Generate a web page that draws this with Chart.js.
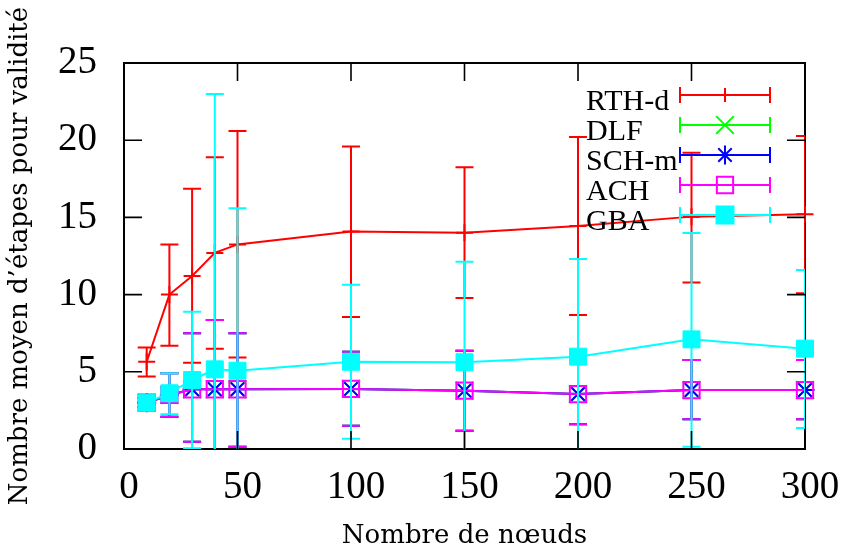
<!DOCTYPE html>
<html><head><meta charset="utf-8">
<script src="https://cdn.jsdelivr.net/npm/chart.js@4/dist/chart.umd.min.js"></script>
<style>html,body{margin:0;padding:0;background:#fff;}canvas{display:block;}</style>
</head><body>
<canvas id="c" width="842" height="555"></canvas>
<script>
// ---- data ----
const nodes = [10, 20, 30, 40, 50, 100, 150, 200, 250, 300];

const rthMean = [5.65, 10.0, 11.2, 12.7, 13.25, 14.09, 14.0, 14.44, 15.05, 15.2];
const rthLow  = [4.7, 6.69, 5.58, 6.5, 5.93, 8.55, 9.78, 8.68, 10.79, 10.08];
const rthHigh = [6.58, 13.25, 16.85, 18.9, 20.6, 19.6, 18.25, 20.2, 19.19, 20.27];

const dlfMean = [3.0, 3.5, 3.87, 3.87, 3.87, 3.89, 3.78, 3.56, 3.82, 3.82];
const dlfLow  = [2.7, 2.09, 0.47, -0.6, 0.15, 1.51, 1.19, 1.6, 1.92, 1.92];
const dlfHigh = [3.3, 4.9, 7.49, 8.35, 7.49, 6.3, 6.37, 5.52, 5.76, 5.76];

const schMean = [3.0, 3.5, 3.87, 3.87, 3.87, 3.89, 3.78, 3.56, 3.82, 3.82];
const schLow  = [2.7, 2.09, 0.47, -0.6, 0.15, 1.51, 1.19, 1.6, 1.92, 1.92];
const schHigh = [3.3, 4.9, 7.49, 8.35, 7.49, 6.3, 6.37, 5.52, 5.76, 5.76];

const achMean = [3.0, 3.5, 3.87, 3.87, 3.87, 3.89, 3.78, 3.56, 3.82, 3.82];
const achLow  = [2.7, 2.09, 0.47, -0.6, 0.15, 1.51, 1.19, 1.6, 1.92, 1.92];
const achHigh = [3.3, 4.9, 7.49, 8.35, 7.49, 6.3, 6.37, 5.52, 5.76, 5.76];

const gbaMean = [3.0, 3.61, 4.47, 5.16, 5.07, 5.65, 5.62, 5.98, 7.1, 6.5];
const gbaLow  = [2.7, 2.25, 0.05, -12.7, -5.4, 0.66, -0.9, -0.35, 0.15, 1.36];
const gbaHigh = [3.3, 4.9, 8.89, 22.99, 15.59, 10.64, 12.13, 12.3, 13.99, 11.59];

const seriesNames = ['RTH-d', 'DLF', 'SCH-m', 'ACH', 'GBA'];
const xTicks = [0, 50, 100, 150, 200, 250, 300];
const yTicks = [0, 5, 10, 15, 20, 25];
const xTitle = 'Nombre de nœuds';
const yTitle = 'Nombre moyen d’étapes pour validité';

// ---- styles ----
const colors = ['#ff0000', '#00ff00', '#0000ff', '#ff00ff', '#00ffff'];
const styles = ['cross', 'crossRot', 'star', 'rect', 'rect'];
const radii  = [8.5, 12.5, 9.5, 11.5, 12];
const filled = [false, false, false, false, true];
const means = [rthMean, dlfMean, schMean, achMean, gbaMean];
const lows  = [rthLow, dlfLow, schLow, achLow, gbaLow];
const highs = [rthHigh, dlfHigh, schHigh, achHigh, gbaHigh];

const datasets = seriesNames.map((name, k) => ({
  label: name,
  data: nodes.map((x, i) => ({ x: x, y: means[k][i] })),
  errLow: lows[k],
  errHigh: highs[k],
  borderColor: colors[k],
  backgroundColor: colors[k],
  borderWidth: 2,
  pointStyle: styles[k],
  pointRadius: radii[k],
  pointHoverRadius: radii[k],
  pointBorderColor: colors[k],
  pointBackgroundColor: filled[k] ? colors[k] : 'rgba(0,0,0,0)',
  pointBorderWidth: filled[k] ? 1 : 2,
  tension: 0,
  fill: false,
  clip: false,
  order: seriesNames.length - k
}));

const errorBars = {
  id: 'errorBars',
  beforeDatasetDraw(chart, args) {
    const ds = chart.data.datasets[args.index];
    if (!ds.errLow) return;
    const { ctx, chartArea: a } = chart;
    const xs = chart.scales.x, ys = chart.scales.y;
    ctx.save();
    ctx.beginPath();
    ctx.rect(a.left, a.top, a.right - a.left, a.bottom - a.top);
    ctx.clip();
    ctx.strokeStyle = ds.borderColor;
    ctx.lineWidth = 2;
    ctx.beginPath();
    ds.data.forEach((p, i) => {
      const px = xs.getPixelForValue(p.x);
      const yl = ys.getPixelForValue(ds.errLow[i]);
      const yh = ys.getPixelForValue(ds.errHigh[i]);
      ctx.moveTo(px, yl); ctx.lineTo(px, yh);
      ctx.moveTo(px - 9, yl); ctx.lineTo(px + 9, yl);
      ctx.moveTo(px - 9, yh); ctx.lineTo(px + 9, yh);
    });
    ctx.stroke();
    ctx.restore();
  }
};

const frame = {
  id: 'frame',
  beforeDatasetsDraw(chart) {
    const { ctx, chartArea: a } = chart;
    ctx.save();
    ctx.strokeStyle = '#000';
    ctx.lineWidth = 2;
    ctx.strokeRect(a.left, a.top, a.right - a.left, a.bottom - a.top);
    ctx.restore();
  },
  afterDatasetsDraw(chart) {
    const { ctx, chartArea: a } = chart;
    const xs = chart.scales.x, ys = chart.scales.y;
    const L = 18;
    ctx.save();
    ctx.strokeStyle = '#000';
    ctx.lineWidth = 1.6;
    ctx.beginPath();
    xs.ticks.forEach(t => {
      const px = xs.getPixelForValue(t.value);
      ctx.moveTo(px, a.bottom); ctx.lineTo(px, a.bottom - L);
      ctx.moveTo(px, a.top); ctx.lineTo(px, a.top + L);
    });
    ys.ticks.forEach(t => {
      const py = ys.getPixelForValue(t.value);
      ctx.moveTo(a.left, py); ctx.lineTo(a.left + L, py);
      ctx.moveTo(a.right, py); ctx.lineTo(a.right - L, py);
    });
    ctx.stroke();
    ctx.restore();
  }
};

function drawMarker(ctx, style, r, x, y, color, fillIt) {
  ctx.strokeStyle = color; ctx.fillStyle = color; ctx.lineWidth = 2;
  ctx.beginPath();
  if (style === 'cross' || style === 'star') {
    ctx.moveTo(x - r, y); ctx.lineTo(x + r, y);
    ctx.moveTo(x, y - r); ctx.lineTo(x, y + r);
  }
  if (style === 'crossRot' || style === 'star') {
    const d = r * Math.SQRT1_2;
    ctx.moveTo(x - d, y - d); ctx.lineTo(x + d, y + d);
    ctx.moveTo(x - d, y + d); ctx.lineTo(x + d, y - d);
  }
  if (style === 'rect') {
    const s = r * Math.SQRT1_2;
    ctx.rect(x - s, y - s, 2 * s, 2 * s);
    if (fillIt) ctx.fill();
  }
  ctx.stroke();
}

const keyBox = {
  id: 'keyBox',
  afterDraw(chart) {
    const ctx = chart.ctx;
    ctx.save();
    seriesNames.forEach((name, k) => {
      const ry = 95 + 30 * k;
      ctx.fillStyle = '#000';
      ctx.font = '30px "Liberation Serif"';
      ctx.textAlign = 'left';
      ctx.textBaseline = 'alphabetic';
      ctx.fillText(name, 586, ry + 15);
      ctx.strokeStyle = colors[k];
      ctx.lineWidth = 2;
      ctx.beginPath();
      ctx.moveTo(680, ry); ctx.lineTo(770, ry);
      ctx.moveTo(680, ry - 8); ctx.lineTo(680, ry + 8);
      ctx.moveTo(770, ry - 8); ctx.lineTo(770, ry + 8);
      ctx.stroke();
      drawMarker(ctx, styles[k], k === 0 ? 7 : radii[k], 725, ry, colors[k], filled[k]);
    });
    ctx.restore();
  }
};

new Chart(document.getElementById('c'), {
  type: 'line',
  data: { datasets: datasets },
  plugins: [errorBars, frame, keyBox],
  options: {
    responsive: false,
    animation: false,
    layout: { padding: { top: 63, right: 37, left: 0, bottom: 0 } },
    plugins: { legend: { display: false }, tooltip: { enabled: false } },
    scales: {
      x: {
        type: 'linear', min: 0, max: 300,
        afterBuildTicks: s => { s.ticks = xTicks.map(v => ({ value: v })); },
        grid: { display: false }, border: { display: false },
        ticks: { color: '#000', font: { family: 'Liberation Serif', size: 39 }, padding: 7, labelOffset: 5, maxRotation: 0, autoSkip: false },
        title: { display: true, text: xTitle, color: '#000', font: { family: 'DejaVu Serif', size: 26 }, padding: { top: 0, bottom: 3 } },
        afterFit: s => { s.height = 106; }
      },
      y: {
        type: 'linear', min: 0, max: 25,
        afterBuildTicks: s => { s.ticks = yTicks.map(v => ({ value: v })); },
        grid: { display: false }, border: { display: false },
        ticks: { color: '#000', font: { family: 'Liberation Serif', size: 39 }, padding: 19 },
        title: { display: true, text: yTitle, color: '#000', font: { family: 'DejaVu Serif', size: 26 }, padding: { top: 5, bottom: 0 } },
        afterFit: s => { s.width = 124; }
      }
    }
  }
});
</script>
</body></html>
